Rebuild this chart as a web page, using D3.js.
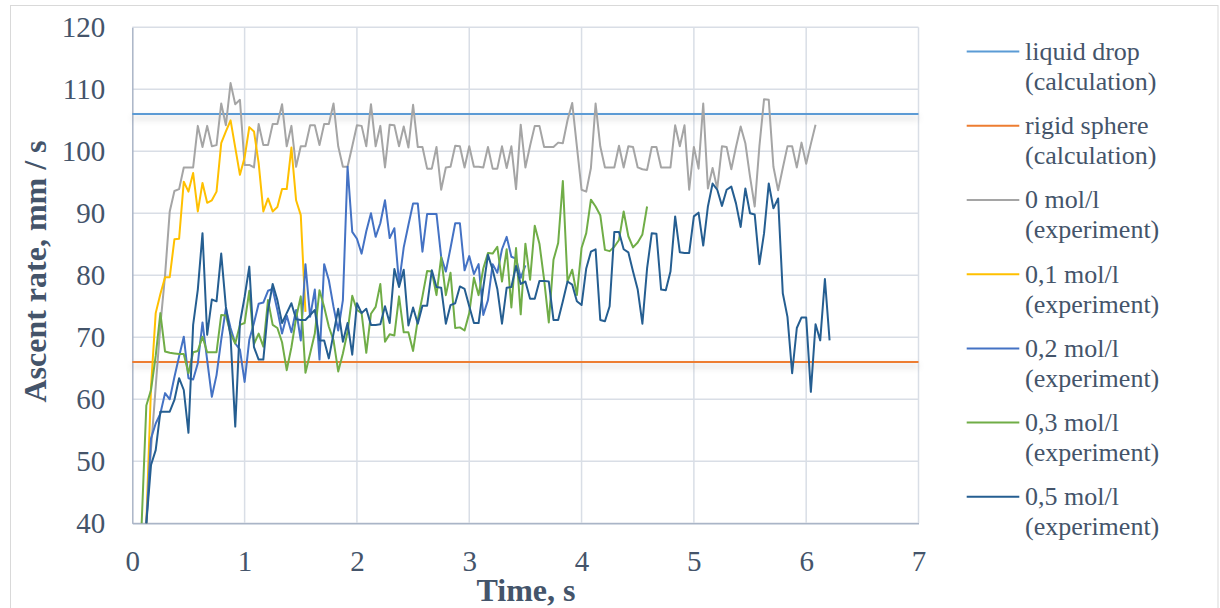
<!DOCTYPE html>
<html>
<head>
<meta charset="utf-8">
<script src="https://cdn.jsdelivr.net/npm/d3@7"></script>
<style>
  body { margin: 0; background: #ffffff; }
</style>
</head>
<body>
<script>
// Frames are 1/24 s apart. Each series: first frame index + values (mm/s).
let frameStep = 1 / 24;

let xTicks = [0, 1, 2, 3, 4, 5, 6, 7];
let yTicks = [40, 50, 60, 70, 80, 90, 100, 110, 120];

let liquidDrop = 106;   // calculation
let rigidSphere = 66;   // calculation

let start0 = 3;
let values0 = [40, 52, 62, 72, 80, 90.3, 93.6, 93.9, 97.4, 97.4, 97.4, 104.1, 100.7, 104.1, 100.8, 101,
  107.7, 104.2, 111, 107.6, 108.3, 97.8, 97.8, 97.4, 104.4, 101, 101, 104.4, 104.4, 107.6, 100.8, 104.1,
  97.5, 100.8, 100.8, 104.2, 104.2, 101, 104.4, 104.4, 107.7, 100.8, 97.5, 97.5, 100.8, 104.2, 104.1, 100.8,
  107.6, 100.8, 104.1, 97.4, 104.3, 104.2, 100.8, 104, 100.6, 107.5, 100.7, 100.7, 97.2, 97.2, 100.7, 93.8,
  97.4, 97.5, 100.9, 100.8, 97.4, 100.8, 97.5, 97.5, 97.4, 100.7, 97.2, 97.2, 100.8, 97.3, 100.8, 93.9,
  104.3, 97.4, 100.9, 104.1, 104.1, 100.7, 100.7, 100.7, 101.4, 101.3, 105, 107.8, 100.8, 93.8, 93.5, 97.3,
  107.7, 100.8, 97.4, 97.4, 97.4, 100.9, 97.4, 100.8, 100.7, 97.4, 97.1, 97, 100.7, 100.7, 97.4, 97.4,
  97.4, 104.2, 100.8, 104.2, 93.8, 100.7, 97.2, 107.7, 94, 97.3, 94, 100.8, 100.7, 97.1, 100.7, 104,
  101.3, 95.9, 91.1, 100.8, 108.4, 108.3, 97.5, 93.7, 97.3, 100.8, 100.8, 97.4, 101.4, 98, 101.2, 104.3];

let start01 = 3;
let values01 = [40, 62, 73.9, 77, 79.7, 79.7, 85.8, 85.9, 95.1, 93.5, 96.5, 90.3, 94.9, 91.7, 92.1, 93.5,
  101.3, 103.2, 105, 100.6, 96.2, 99, 103.9, 103.2, 98.1, 90.3, 92.4, 90.3, 91, 93.9, 93.9, 100.6,
  92.1, 89.7, 74.1];

let start02 = 3;
let values02 = [40, 53.7, 56.1, 57.7, 61, 60, 63.6, 66.9, 70.1, 63.4, 63.2, 65.8, 72.4, 66.3, 60.4, 63.9,
  69.6, 74.7, 71.5, 69, 68, 62.8, 69.6, 72.3, 75.4, 75.6, 77.5, 77.8, 74.4, 70.6, 73.5, 70.8,
  74.4, 69.5, 81.8, 73.3, 77.7, 66.4, 81.8, 79.2, 74.9, 71.1, 76, 97.5, 87, 85.9, 83.5, 87.1,
  90, 86.2, 88.4, 92.1, 86, 87.6, 78.7, 84.5, 88.1, 91.6, 91.6, 83.8, 89.9, 89.9, 89.9, 83,
  80.6, 84.4, 88.4, 88.4, 80.8, 83.1, 80.2, 81.8, 73.6, 76, 81.8, 80.4, 84.2, 86.2, 83, 82.7,
  79.6, 81.6];

let start03 = 2;
let values03 = [40, 59, 61.5, 67, 73.9, 67.7, 67.5, 67.4, 67.3, 67.3, 64.2, 67.6, 67.8, 70.1, 67.6, 67.6,
  67.6, 73.6, 73.5, 70.6, 69, 72, 72.3, 77.5, 68.9, 70.6, 68.5, 76, 72, 71.5, 69.2, 64.7,
  68.4, 73.1, 76.6, 64.3, 67.4, 70.6, 77.6, 74.9, 71.7, 69.5, 64.5, 67.4, 70.9, 76.7, 74.4, 73.9,
  67.5, 73.8, 74.9, 78.6, 69.3, 70.5, 70.3, 76.6, 70.8, 70.8, 67.8, 72.8, 76.6, 80.7, 80.6, 76.8,
  82.9, 76.8, 80.4, 71.5, 71.6, 71.1, 73.9, 79.6, 76.8, 81.1, 83.6, 83.5, 84.6, 79, 84.2, 74.8,
  84.4, 73.7, 85.1, 79.3, 88, 85.1, 79.3, 72.4, 82.5, 85.2, 95.2, 79, 80.9, 76.8, 84.4, 86.8,
  92.2, 91.1, 89.7, 84.1, 83.9, 84.6, 85.7, 90.3, 86.3, 84.5, 85.3, 86.6, 91.1];

let start05 = 3;
let values05 = [40, 49.4, 51.8, 58, 58, 58, 59.9, 63.4, 61.5, 54.6, 72, 77.7, 86.8, 70.4, 76.1, 75.8,
  83.5, 74.9, 70.1, 55.6, 72.3, 76.5, 81.4, 68.4, 66.4, 66.4, 74.4, 78.6, 76, 72.3, 73.9, 75.5,
  72.9, 72.8, 72.8, 73.6, 74.4, 69.5, 69.5, 66.6, 70.6, 74.6, 69.3, 72.3, 67.2, 75.5, 73.9, 74.6,
  72, 72, 72.1, 75, 72.3, 81, 78.1, 80.9, 71.9, 74.8, 72.2, 75.1, 75.1, 80.8, 78.1, 78,
  72.2, 75.2, 75.5, 78.2, 77.8, 75, 72.3, 72.3, 78, 83.3, 80.9, 77.8, 72.2, 78, 78.1, 81.5,
  78.6, 79, 76.2, 76.2, 79.1, 79.1, 79, 72.8, 72.8, 75.8, 79, 78.5, 75.8, 75.2, 81.1, 83.8,
  84.2, 72.8, 72.6, 75, 87, 87, 84.2, 83.7, 80.6, 77.7, 72.2, 81.1, 86.8, 86.7, 77.7, 77.6,
  80.6, 89.5, 83.7, 83.6, 83.6, 89.5, 90.1, 84.8, 91.1, 94.8, 93.8, 91.2, 93.8, 94.3, 91.6, 87.8,
  94, 90, 89.8, 81.8, 86.8, 94.8, 90.8, 92.4, 77.1, 73.3, 64.2, 71.5, 73.2, 73.2, 61.2, 72.1,
  69.5, 79.4, 69.5];

let legendNames = [
  ['liquid drop', '(calculation)'],
  ['rigid sphere', '(calculation)'],
  ['0 mol/l', '(experiment)'],
  ['0,1 mol/l', '(experiment)'],
  ['0,2 mol/l', '(experiment)'],
  ['0,3 mol/l', '(experiment)'],
  ['0,5 mol/l', '(experiment)']
];
let colors = ['#5B9BD5', '#ED7D31', '#A5A5A5', '#FFC000', '#4472C4', '#70AD47', '#255E91'];

let serif = '"Liberation Serif", "Times New Roman", serif';
let textColor = '#44546A';

// pair each value with its time
let toPoints = (start, vals) => vals.map((v, i) => [(start + i) * frameStep, v]);

let series = [
  { pts: toPoints(start0, values0), color: colors[2] },
  { pts: toPoints(start01, values01), color: colors[3] },
  { pts: toPoints(start02, values02), color: colors[4] },
  { pts: toPoints(start03, values03), color: colors[5] },
  { pts: toPoints(start05, values05), color: colors[6] }
];

let w = 1220;
let h = 608;

let svg = d3.select('body')
  .append('svg')
  .attr('width', w)
  .attr('height', h);

// soft shadow under the calculation lines (user space, the lines have no height)
let defs = svg.append('defs');
let filter = defs.append('filter')
  .attr('id', 'shadow')
  .attr('filterUnits', 'userSpaceOnUse')
  .attr('x', 0).attr('y', 0)
  .attr('width', w).attr('height', h);
filter.append('feDropShadow')
  .attr('dx', 0).attr('dy', 4)
  .attr('stdDeviation', 3)
  .attr('flood-color', '#000')
  .attr('flood-opacity', 0.22);

// chart frame
svg.append('rect')
  .attr('x', 10.5).attr('y', 5.5)
  .attr('width', 1207.5).attr('height', 640)
  .attr('fill', 'none')
  .attr('stroke', '#d9d9d9')
  .attr('stroke-width', 1);

let xScale = d3.scaleLinear().domain([0, 7]).range([132.3, 918.5]);
let yScale = d3.scaleLinear().domain([40, 120]).range([523.3, 27.3]);

// gridlines
svg.append('g')
  .selectAll('line')
  .data(yTicks)
  .enter()
  .append('line')
  .attr('x1', xScale(0)).attr('x2', xScale(7))
  .attr('y1', d => yScale(d)).attr('y2', d => yScale(d))
  .attr('stroke', '#d9dee6')
  .attr('stroke-width', 1.5);

svg.append('g')
  .selectAll('line')
  .data(xTicks.slice(1))
  .enter()
  .append('line')
  .attr('x1', d => xScale(d)).attr('x2', d => xScale(d))
  .attr('y1', yScale(120)).attr('y2', yScale(40))
  .attr('stroke', '#d9dee6')
  .attr('stroke-width', 1.5);

// axes
let xAxis = d3.axisBottom(xScale).tickValues(xTicks).tickSize(0).tickPadding(27).tickFormat(d3.format('d'));
let yAxis = d3.axisLeft(yScale).tickValues(yTicks).tickSize(0).tickPadding(27).tickFormat(d3.format('d'));

let gx = svg.append('g')
  .attr('transform', 'translate(0,' + yScale(40) + ')')
  .call(xAxis);
let gy = svg.append('g')
  .attr('transform', 'translate(' + xScale(0) + ',0)')
  .call(yAxis);

[gx, gy].forEach(g => {
  g.attr('font-family', serif);
  g.select('.domain').attr('stroke', '#aab5c7').attr('stroke-width', 1.5);
  g.selectAll('text')
    .style('font-family', serif)
    .style('font-size', '29px')
    .attr('fill', textColor);
});

// calculation lines
[[liquidDrop, colors[0]], [rigidSphere, colors[1]]].forEach(d => {
  svg.append('line')
    .attr('x1', xScale(0)).attr('x2', xScale(7))
    .attr('y1', yScale(d[0])).attr('y2', yScale(d[0]))
    .attr('stroke', d[1])
    .attr('stroke-width', 2)
    .attr('filter', 'url(#shadow)');
});

// experiment lines
let line = d3.line()
  .x(d => xScale(d[0]))
  .y(d => yScale(d[1]));

svg.append('g')
  .selectAll('path')
  .data(series)
  .enter()
  .append('path')
  .attr('d', d => line(d.pts))
  .attr('fill', 'none')
  .attr('stroke', d => d.color)
  .attr('stroke-width', 2)
  .attr('stroke-linejoin', 'round');

// axis titles
svg.append('text')
  .attr('transform', 'translate(46,' + 271.5 + ') rotate(-90)')
  .attr('text-anchor', 'middle')
  .style('font-family', serif)
  .style('font-size', '32px')
  .style('font-weight', 'bold')
  .attr('fill', textColor)
  .text('Ascent rate, mm / s');

svg.append('text')
  .attr('x', 526)
  .attr('y', 601)
  .attr('text-anchor', 'middle')
  .style('font-family', serif)
  .style('font-size', '32px')
  .style('font-weight', 'bold')
  .attr('fill', textColor)
  .text('Time, s');

// legend
let legend = svg.append('g')
  .selectAll('g')
  .data(legendNames)
  .enter()
  .append('g')
  .attr('transform', (d, i) => 'translate(0,' + (60 + i * 74.2) + ')');

legend.append('line')
  .attr('x1', 966.7).attr('x2', 1019.3)
  .attr('y1', -8.4).attr('y2', -8.4)
  .attr('stroke', (d, i) => colors[i])
  .attr('stroke-width', 2);

legend.append('text')
  .attr('x', 1025)
  .attr('y', 0)
  .style('font-family', serif)
  .style('font-size', '26px')
  .attr('fill', textColor)
  .text(d => d[0]);

legend.append('text')
  .attr('x', 1025)
  .attr('y', 30)
  .style('font-family', serif)
  .style('font-size', '26px')
  .attr('fill', textColor)
  .text(d => d[1]);
</script>
</body>
</html>
